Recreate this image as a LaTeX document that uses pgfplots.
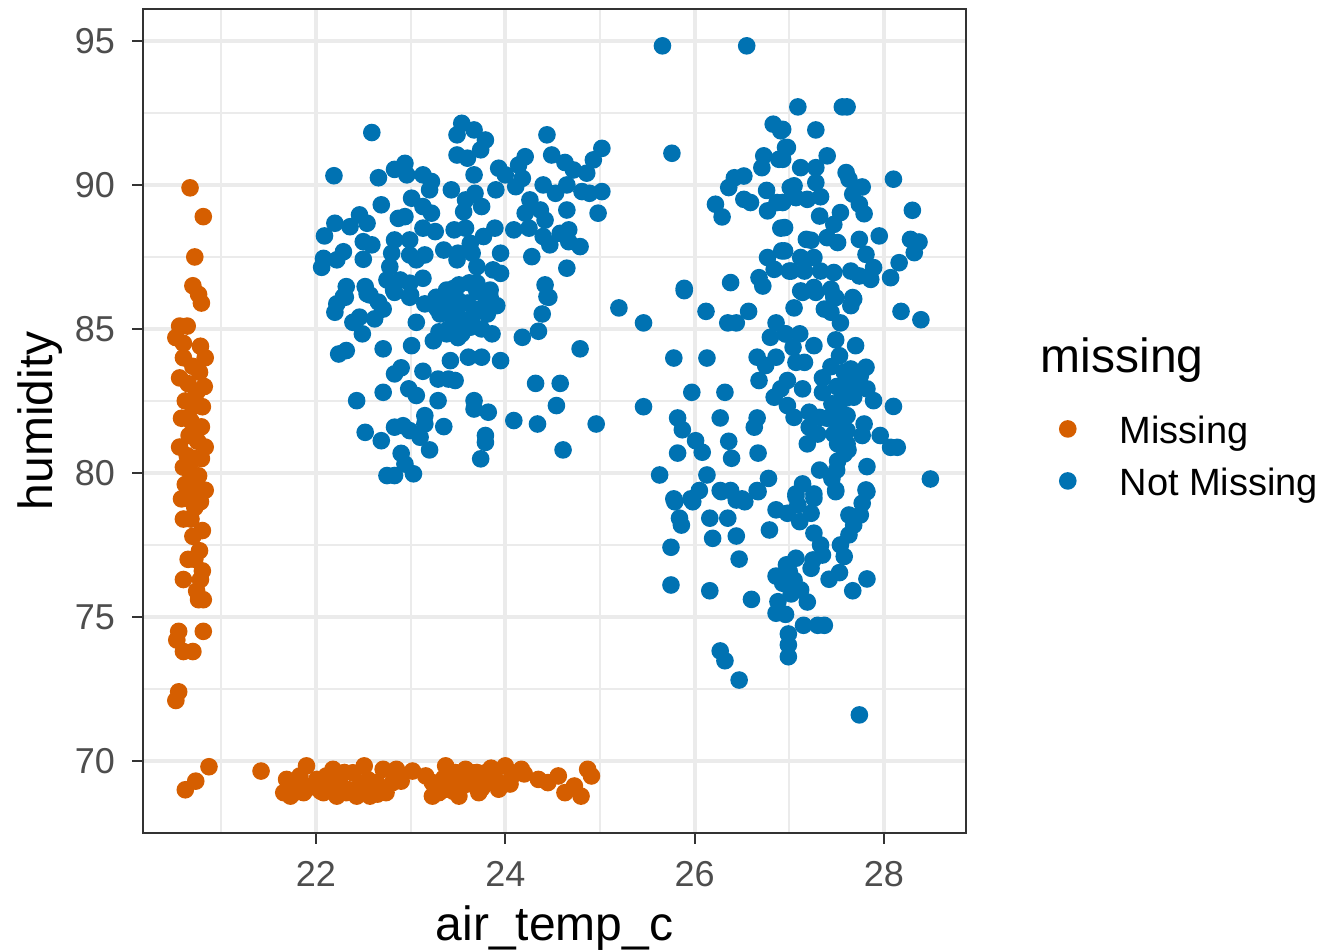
\documentclass[border=0pt]{standalone}
\usepackage{fontspec}
\setmainfont{Liberation Sans}
\usepackage{pgfplots}
\pgfplotsset{compat=1.18}
\definecolor{cOrange}{HTML}{D55E00}
\definecolor{cBlue}{HTML}{0072B2}
\definecolor{gridc}{HTML}{EBEBEB}
\definecolor{bordc}{HTML}{333333}
\definecolor{tickc}{HTML}{4D4D4D}
\begin{document}
\begin{tikzpicture}
\useasboundingbox (-35.75pt,-29.25pt) rectangle (294.75pt,208.25pt);
\begin{axis}[
    name=ax, at={(0,0)}, anchor=south west,
    scale only axis, width=205.75pt, height=206pt,
    xmin=20.173, xmax=28.866, ymin=67.5, ymax=96.11,
    xtick={22,24,26,28}, ytick={70,75,80,85,90,95},
    minor xtick={21,23,25,27}, minor ytick={72.5,77.5,82.5,87.5,92.5},
    grid=both,
    major grid style={line width=1pt, color=gridc},
    minor grid style={line width=0.5pt, color=gridc},
    axis line style={line width=0.55pt, color=bordc},
    tick align=outside, tick pos=left,
    major tick length=2.7pt, minor tick length=0pt,
    tick style={line width=0.55pt, color=bordc},
    minor tick style={draw=none},
    /pgf/number format/assume math mode=true,
    ticklabel style={font=\fontsize{9}{10.8}\selectfont, text=tickc},
    xticklabel style={yshift=-0.8pt},
    yticklabel style={xshift=-0.8pt},
    xlabel={air\_temp\_c}, ylabel={humidity},
    label style={font=\fontsize{12}{14}\selectfont},
    xlabel style={at={(axis description cs:0.5,-0.1299)}, anchor=base},
    ylabel style={at={(axis description cs:-0.1094,0.5)}, anchor=base},
    legend image code/.code={\fill[#1] (2pt,1.4pt) circle (2pt);},
    legend cell align=left,
    legend style={draw=none, fill=none, inner sep=0pt, outer sep=0pt,
        at={(axis description cs:1.1130,0.5066)}, anchor=north west,
        row sep=3.5pt, column sep=10.75pt,
        nodes={inner sep=0pt, text height=7pt, text depth=2.5pt,
               font=\fontsize{9.5}{11}\selectfont}},
]
% Missing
\addplot[only marks, mark=*, mark size=2pt, color=cOrange, mark options={draw=none, fill=cOrange}] coordinates {
(20.67,89.9) (20.81,88.9) (20.72,87.5) (20.70,86.5) (20.76,86.2) (20.79,85.9)
(20.56,85.1) (20.64,85.1) (20.52,84.7) (20.60,84.5) (20.78,84.4) (20.83,84.0)
(20.60,84.0) (20.70,83.7) (20.77,83.5) (20.56,83.3) (20.65,83.1) (20.82,83.0)
(20.74,82.8) (20.62,82.5) (20.70,82.3) (20.80,82.3) (20.58,81.9) (20.68,81.8)
(20.79,81.6) (20.66,81.3) (20.75,81.1) (20.56,80.9) (20.83,80.9) (20.64,80.6)
(20.72,80.5) (20.79,80.5) (20.60,80.2) (20.68,80.0) (20.76,79.9) (20.62,79.6)
(20.70,79.4) (20.83,79.4) (20.58,79.1) (20.66,79.1) (20.78,79.0) (20.72,78.8)
(20.60,78.4) (20.68,78.4) (20.80,78.0) (20.70,77.8) (20.77,77.3) (20.65,77.0)
(20.72,77.0) (20.80,76.6) (20.60,76.3) (20.78,76.3) (20.74,75.9) (20.76,75.6)
(20.81,75.6) (20.55,74.5) (20.81,74.5) (20.53,74.2) (20.60,73.8) (20.70,73.8)
(20.55,72.4) (20.52,72.1) (20.62,69.0) (20.73,69.3) (20.87,69.8)
(21.42,69.65) (21.69,69.36) (21.66,68.90) (21.76,69.25) (21.83,69.48) (21.90,69.83)
(21.87,68.90) (22.01,69.36) (22.08,68.90) (22.11,69.48) (22.18,69.71) (22.25,69.25)
(22.32,68.90) (22.39,69.59) (22.46,69.13) (22.51,69.83) (22.57,68.78) (22.64,69.25)
(22.71,69.71) (22.74,68.90) (22.81,69.25) (22.85,69.71) (23.02,69.65) (23.16,69.48)
(23.23,69.25) (23.30,68.90) (23.37,69.83) (23.44,69.36) (23.51,68.78) (23.58,69.71)
(23.65,69.25) (23.72,68.90) (23.79,69.59) (23.86,69.36) (23.93,69.02) (24.00,69.83)
(24.07,69.48) (24.17,69.71) (24.35,69.36) (24.45,69.25) (24.56,69.48) (24.63,68.90)
(24.73,69.13) (24.80,68.78) (24.87,69.71) (24.91,69.48)
(21.73,68.78) (21.90,69.13) (22.15,69.13) (22.22,68.78) (22.43,68.78) (23.23,68.78)
(23.37,69.02) (23.47,69.60) (23.65,69.59) (21.75,68.85) (21.95,69.10) (22.05,68.95)
(22.20,69.40) (22.30,69.60) (22.35,69.00) (22.55,69.35) (22.60,69.05) (22.65,68.85)
(22.90,69.30) (23.35,69.40) (23.40,69.10) (23.45,68.95) (23.55,69.50) (23.60,69.20)
(23.70,69.60) (23.75,69.05) (23.85,69.75) (23.90,69.35) (24.05,69.20) (24.20,69.55)
};
\addlegendentry{Missing}
% Not Missing
\addplot[only marks, mark=*, mark size=2pt, color=cBlue, mark options={draw=none, fill=cBlue}] coordinates {
(22.59,91.82) (22.19,90.32) (22.66,90.25) (22.83,90.54) (22.94,90.75) (22.96,90.35)
(23.13,90.35) (23.22,90.12) (23.20,89.83) (23.43,89.83) (23.49,91.04) (23.49,91.74)
(22.69,89.31) (23.01,89.54) (23.13,89.25) (23.22,89.02) (22.46,88.96) (22.87,88.84)
(22.94,88.90) (22.20,88.67) (22.36,88.55) (22.54,88.67) (22.09,88.23) (22.50,88.03)
(22.59,87.92) (22.83,88.09) (22.99,88.09) (23.13,88.50) (23.26,88.38) (23.35,87.74)
(23.50,87.63) (22.08,87.45) (22.06,87.14) (22.29,87.68) (22.22,87.40) (22.50,87.42)
(22.80,87.63) (22.78,87.16) (22.99,87.57) (23.06,87.40) (23.15,87.57) (23.13,86.76)
(22.75,86.70) (22.89,86.70) (22.99,86.59) (22.32,86.47) (22.52,86.47) (22.29,86.12)
(22.57,86.18) (22.82,86.35) (23.00,86.18) (23.27,86.06) (23.38,86.35) (23.49,86.47)
(23.54,92.14) (23.67,91.91) (23.79,91.56) (23.74,91.22) (23.60,90.93) (24.44,91.74)
(24.49,91.04) (24.63,90.78) (24.72,90.52) (24.86,90.41) (24.93,90.87) (25.02,91.27)
(24.21,90.98) (24.14,90.69) (23.93,90.58) (24.00,90.35) (23.67,90.35) (24.18,90.23)
(24.11,89.94) (23.90,89.83) (23.68,89.71) (23.58,89.48) (23.75,89.25) (23.56,89.07)
(24.40,90.00) (24.53,89.71) (24.65,90.00) (24.81,89.77) (24.89,89.71) (25.02,89.77)
(24.98,89.02) (24.65,89.13) (24.26,89.48) (24.21,89.02) (24.37,89.13) (24.42,88.78)
(23.46,88.44) (23.58,88.50) (23.77,88.21) (23.89,88.50) (24.09,88.44) (24.25,88.50)
(24.40,88.21) (24.58,88.32) (24.67,88.44) (24.79,87.86) (24.67,88.03) (24.47,87.92)
(23.63,87.97) (23.49,87.40) (23.65,87.63) (23.95,87.63) (24.28,87.51) (24.65,87.11)
(23.70,87.16) (23.87,87.05) (23.95,86.93) (23.51,86.53) (23.70,86.59) (23.84,86.35)
(24.42,86.53) (24.44,86.12)
(22.20,85.58) (22.22,85.87) (22.31,86.10) (22.54,86.22) (22.66,85.93) (22.71,85.69)
(22.62,85.35) (22.39,85.23) (22.46,85.41) (22.49,84.83) (22.83,86.27) (22.99,86.10)
(23.06,85.23) (23.15,85.87) (23.27,86.10) (23.31,85.52) (23.42,85.64) (23.45,85.17)
(23.24,84.59) (23.38,84.83) (22.24,84.13) (22.32,84.25) (22.71,84.31) (23.01,84.42)
(23.42,83.90) (22.83,83.44) (22.90,83.65) (23.13,83.53) (23.29,83.26) (23.40,83.26)
(22.43,82.51) (22.71,82.80) (22.98,82.92) (23.06,82.69) (23.29,82.51) (23.15,81.99)
(23.15,81.70) (23.35,81.61) (22.52,81.41) (22.83,81.59) (22.92,81.64) (22.99,81.47)
(23.10,81.24) (22.69,81.12) (22.90,80.68) (23.20,80.80) (22.94,80.31) (22.75,79.91)
(22.83,79.91) (23.03,79.97)
(23.49,85.64) (23.68,85.69) (23.81,85.52) (23.84,86.10) (23.91,85.81) (23.54,84.83)
(23.63,85.06) (23.86,84.83) (24.46,86.10) (24.39,85.52) (24.35,84.92) (24.18,84.71)
(24.79,84.31) (23.61,84.02) (23.75,84.02) (23.95,83.90) (23.47,83.21) (24.32,83.11)
(24.58,83.11) (23.67,82.51) (23.67,82.22) (23.82,82.11) (24.54,82.34) (24.09,81.82)
(24.34,81.70) (24.96,81.70) (23.79,81.30) (23.79,81.06) (24.61,80.80) (23.74,80.49)
(23.35,85.90) (23.45,85.40) (23.50,86.00) (23.55,85.30) (23.40,85.00) (23.30,84.90)
(23.60,85.90) (23.65,85.40) (23.70,86.30) (23.75,85.00) (23.50,84.70) (23.45,86.40)
(23.28,85.70) (23.62,86.60) (23.80,86.00)
(25.20,85.73) (25.46,85.21) (25.46,82.30)
(25.66,94.83) (26.55,94.83) (25.76,91.10) (26.83,92.11) (26.91,91.88) (26.96,91.30)
(26.73,91.01) (26.89,90.89) (26.71,90.60) (26.42,90.25) (26.52,90.31) (26.36,89.91)
(26.76,89.81) (26.52,89.50) (26.59,89.39) (26.22,89.33) (26.29,88.89) (26.77,89.10)
(26.87,89.39) (26.91,88.50) (27.01,89.91) (26.77,87.48) (26.92,87.71) (26.84,87.07)
(26.68,86.78) (26.72,86.49) (26.38,86.61) (25.89,86.41) (27.02,87.01)
(27.09,92.71) (27.56,92.71) (27.61,92.71) (26.93,91.93) (27.28,91.91) (26.98,91.30)
(26.93,90.89) (27.40,91.01) (27.12,90.60) (27.28,90.60) (27.60,90.43) (27.63,90.20)
(27.28,90.08) (27.05,89.97) (27.77,89.93) (27.07,89.56) (27.19,89.50) (27.33,89.59)
(26.93,89.39) (27.67,89.68) (27.74,89.33) (28.10,90.20) (28.30,89.12) (27.32,88.92)
(27.54,89.04) (27.79,89.00) (27.47,88.63) (26.95,88.52) (27.40,88.17) (27.18,88.11)
(27.23,88.08) (27.51,88.00) (27.74,88.11) (27.95,88.23) (27.81,87.59) (28.28,88.11)
(28.37,88.02) (28.32,87.65) (26.95,87.71) (27.12,87.48) (27.26,87.48) (27.00,87.01)
(27.16,87.01) (27.33,87.01) (27.47,86.96) (27.65,87.01) (27.74,86.84) (27.89,87.13)
(28.07,86.78) (28.16,87.30) (27.86,86.72) (27.12,86.32) (27.26,86.44) (27.44,86.38)
(27.49,86.09) (27.67,86.09)
(25.89,86.33) (26.12,85.61) (26.35,85.21) (26.44,85.21) (26.57,85.61) (26.86,85.21)
(26.80,84.71) (26.96,84.83) (25.78,83.99) (26.13,83.99) (26.66,84.02) (26.75,83.73)
(26.86,84.02) (26.68,83.21) (25.97,82.80) (26.32,82.80) (26.84,82.63) (26.91,82.92)
(25.82,81.91) (25.87,81.50) (26.27,81.91) (26.66,81.91) (26.63,81.59) (26.01,81.12)
(26.08,80.72) (26.36,81.10) (25.82,80.69) (26.39,80.51) (26.67,80.69) (25.63,79.93)
(26.13,79.93) (26.78,79.81) (26.05,79.39) (26.27,79.39) (26.38,79.39) (26.66,79.39)
(25.78,79.10) (25.96,79.10) (26.50,79.10)
(27.14,86.27) (27.28,86.27) (27.05,85.73) (27.37,85.69) (27.44,85.58) (27.47,86.10)
(27.65,85.81) (27.68,86.04) (27.54,85.21) (28.18,85.61) (28.39,85.32) (26.96,84.83)
(27.11,84.83) (27.26,84.42) (27.49,84.62) (27.70,84.42) (27.04,84.36) (27.07,83.84)
(27.16,83.84) (27.44,83.69) (27.53,84.07) (27.65,83.61) (27.81,83.67) (27.75,83.38)
(27.61,83.26) (26.98,83.21) (27.14,82.92) (27.35,82.80) (27.67,82.92) (27.82,82.92)
(27.89,82.51) (27.68,82.63) (27.54,82.51) (28.10,82.31) (26.98,82.34) (27.05,81.93)
(27.21,82.11) (27.32,81.93) (27.51,82.16) (27.61,81.99) (27.49,81.82) (27.79,81.70)
(27.21,81.59) (27.30,81.35) (27.47,81.35) (27.61,81.47) (27.77,81.30) (27.96,81.30)
(28.07,80.89) (28.14,80.89) (27.19,81.01) (27.51,81.01) (27.61,81.01) (27.58,80.66)
(27.51,80.41) (27.82,80.22) (27.32,80.10) (28.49,79.79) (27.14,79.62) (27.07,79.27)
(27.26,79.27) (27.49,79.41) (27.81,79.41)
(27.45,82.40) (27.50,83.00) (27.55,81.60) (27.60,82.60) (27.40,81.90) (27.58,83.50)
(27.62,80.80) (27.35,83.30) (27.50,80.10) (27.45,79.80)
(25.79,79.00) (25.98,79.00) (26.28,79.35) (26.44,79.06) (26.53,79.00) (26.67,79.35)
(26.86,78.72) (26.98,78.60) (27.09,78.89) (27.07,79.18) (27.23,78.60) (27.26,79.12)
(27.11,78.31) (27.49,79.35) (27.82,79.35) (27.77,78.95) (27.63,78.54) (27.75,78.54)
(27.68,78.19) (25.84,78.43) (25.86,78.19) (26.16,78.43) (26.35,78.43) (26.19,77.73)
(26.44,77.81) (26.79,78.02) (27.26,77.91) (27.33,77.50) (27.63,77.85) (27.54,77.50)
(27.58,77.10) (27.35,77.15) (27.25,76.98) (27.23,76.69) (25.75,77.42) (26.47,77.01)
(27.07,77.04) (26.97,76.81) (27.00,76.57) (26.86,76.42) (27.05,76.28) (26.93,76.17)
(27.53,76.54) (27.42,76.31) (27.82,76.32) (27.67,75.91) (25.75,76.11) (26.16,75.91)
(26.60,75.61) (27.12,75.94) (27.02,75.80) (27.19,75.52) (26.88,75.53) (26.86,75.13)
(26.96,75.09) (27.15,74.71) (27.30,74.71) (27.37,74.71) (26.99,74.41) (26.99,74.03)
(26.99,73.62) (26.27,73.82) (26.32,73.48) (26.47,72.81) (27.74,71.60)
};
\addlegendentry{Not Missing}
\end{axis}
\node[anchor=base west, inner sep=0pt, font=\fontsize{12}{14}\selectfont]
    at ([xshift=224.25pt, yshift=115pt]ax.south west) {missing};
\end{tikzpicture}
\end{document}
